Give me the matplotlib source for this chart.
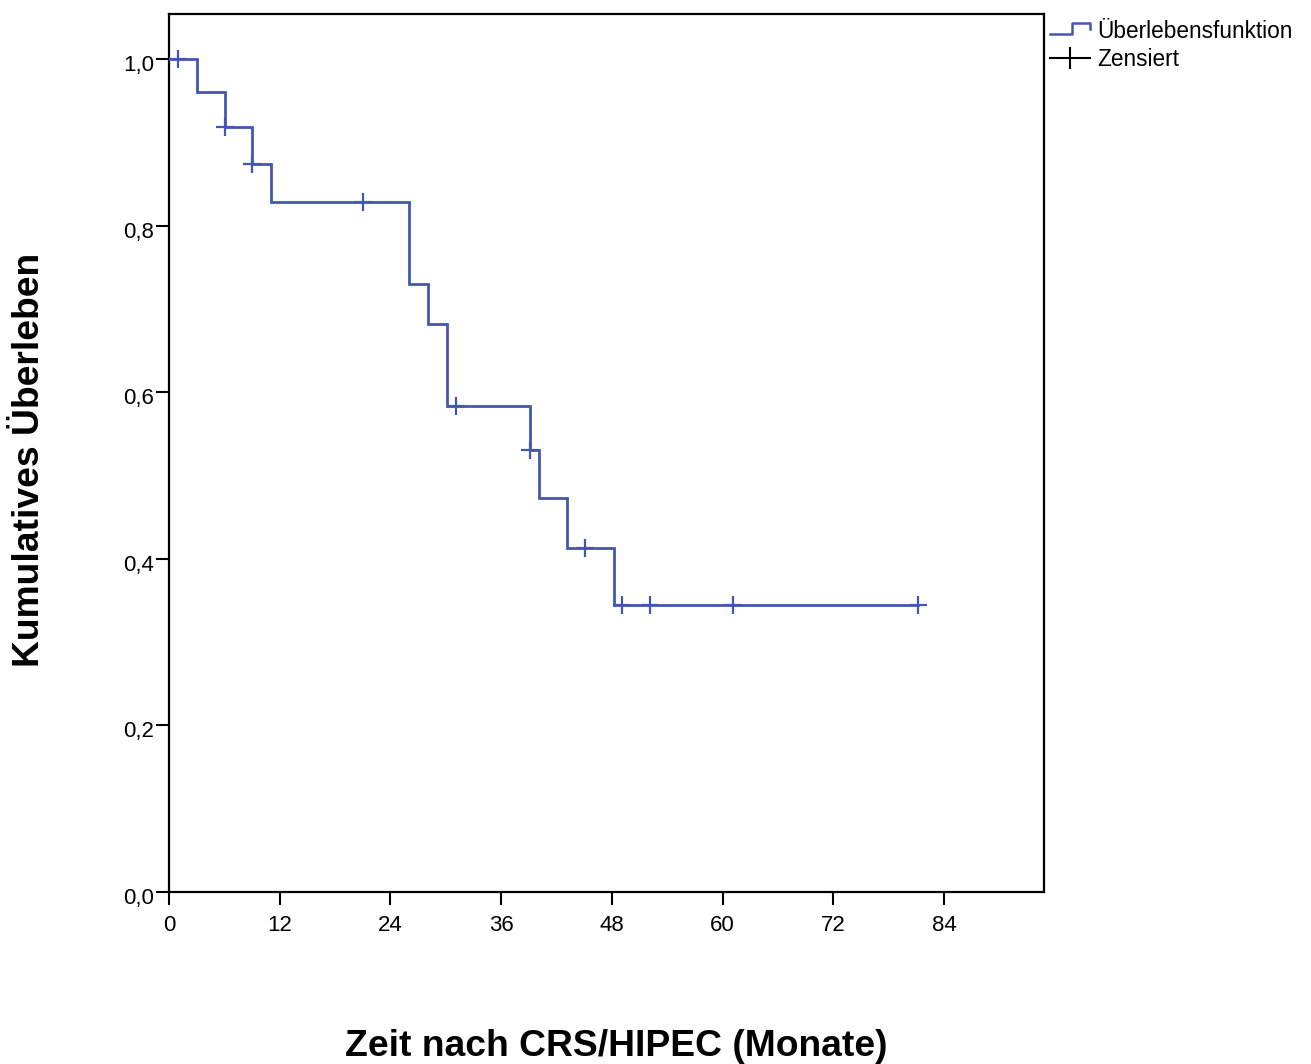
import numpy as np
import matplotlib
matplotlib.use("Agg")
import matplotlib.pyplot as plt
import matplotlib.transforms as mtransforms
from matplotlib.lines import Line2D

plt.rcParams['font.family'] = ['Liberation Sans', 'DejaVu Sans']

# --- data ---
event_times = [3.0, 6.05, 9.05, 11.05, 26.05, 28.1, 30.1, 39.1, 40.1, 43.1, 48.2]
survival = [0.960, 0.918, 0.874, 0.828, 0.730, 0.682, 0.584, 0.531, 0.473, 0.413, 0.344]
censor_times = [1.0, 6.05, 9.05, 21.0, 31.1, 39.1, 45.1, 49.1, 52.1, 61.1, 81.2]
x_ticks = [0, 12, 24, 36, 48, 60, 72, 84]
y_ticks = [0.0, 0.2, 0.4, 0.6, 0.8, 1.0]
y_tick_labels = ['0,0', '0,2', '0,4', '0,6', '0,8', '1,0']
legend_labels = ['Überlebensfunktion', 'Zensiert']
x_label = 'Zeit nach CRS/HIPEC (Monate)'
y_label = 'Kumulatives Überleben'

blue = '#4257b2'
W, H = 1311, 1064
fig = plt.figure(figsize=(W / 100, H / 100), dpi=100)
ax = fig.add_axes([169 / W, 1 - 892 / H, (1044 - 169) / W, (892 - 14) / H])

# step curve
t = np.array([0.0] + event_times + [max(censor_times)])
s = np.array([1.0] + survival + [survival[-1]])
ax.step(t, s, where='post', color=blue, lw=2.0, solid_joinstyle='miter', zorder=3)

# censor marks
ev = np.array(event_times)
sv = np.array([1.0] + survival)
idx = np.searchsorted(ev, np.array(censor_times), side='right')
cy = sv[idx]
ax.plot(censor_times, cy, ls='none', marker='+', ms=13, mew=1.6, color=blue, zorder=4)

ax.set_xlim(0, 94.85)
ax.set_ylim(0, 1.054)
ax.set_xticks(x_ticks)
ax.set_xticklabels([str(v) for v in x_ticks])
ax.set_yticks(y_ticks)
ax.set_yticklabels(y_tick_labels)
ax.tick_params(direction='out', length=9.5, width=1.5, labelsize=16, color='black')
ax.tick_params(axis='y', pad=1)
ax.tick_params(axis='x', pad=7)
offset = mtransforms.ScaledTranslation(0, -4 / 100, fig.dpi_scale_trans)
for lbl in ax.get_yticklabels():
    lbl.set_transform(lbl.get_transform() + offset)
for sp in ax.spines.values():
    sp.set_linewidth(1.6)
    sp.set_color('black')

fig.text(616 / W, 1 - 1046 / H, x_label, ha='center', va='center',
         fontsize=26.8, fontweight='bold')
fig.text(30 / W, 1 - 460 / H, y_label, ha='center', va='center', rotation=90,
         fontsize=26.8, fontweight='bold')

# legend (manual, outside plot at top right)
lax = fig.add_axes([1045 / W, 1 - 80 / H, (W - 1045) / W, 66 / H])
lax.set_xlim(1045, W)
lax.set_ylim(80, 14)
lax.axis('off')
lax.add_line(Line2D([1050, 1072, 1072, 1090, 1090], [34, 34, 23, 23, 29],
                    color=blue, lw=1.8))
lax.add_line(Line2D([1050, 1090], [58, 58], color='black', lw=1.5))
lax.add_line(Line2D([1070, 1070], [48, 68], color='black', lw=1.5))
lax.text(1097, 31, legend_labels[0], fontsize=16.3, va='center', ha='left')
lax.text(1097, 60, legend_labels[1], fontsize=16.3, va='center', ha='left')

fig.savefig('out.png', dpi=100, facecolor='white')
